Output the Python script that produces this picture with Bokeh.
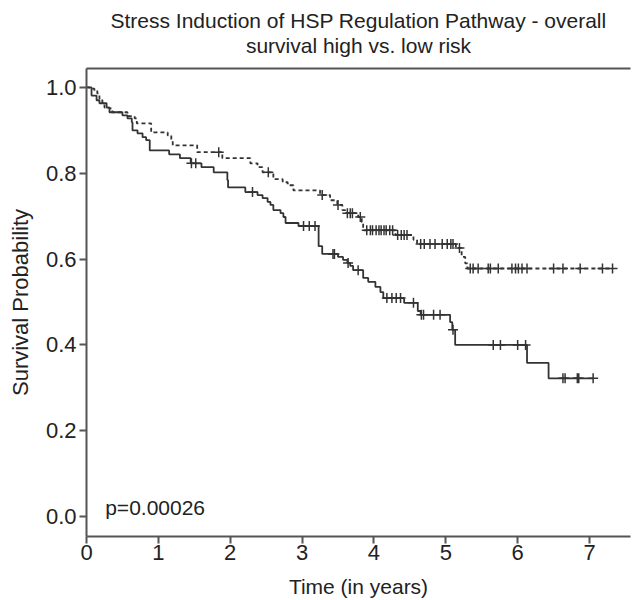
import numpy as np
from bokeh.plotting import figure
from bokeh.models import (Range1d, LinearAxis, FixedTicker, NumeralTickFormatter,
                          Title, Label)
from bokeh.embed import file_html
from bokeh.resources import INLINE

TITLE_1 = "Stress Induction of HSP Regulation Pathway - overall"
TITLE_2 = "survival high vs. low risk"
X_LABEL = "Time (in years)"
Y_LABEL = "Survival Probability"
P_TEXT = "p=0.00026"
X_TICKS = [0, 1, 2, 3, 4, 5, 6, 7]
Y_TICKS = [0.0, 0.2, 0.4, 0.6, 0.8, 1.0]

# high-risk group (solid): event times and survival after each event
HI_T = [0.07, 0.14, 0.18, 0.28, 0.32, 0.50, 0.57, 0.63, 0.64, 0.71,
        0.78, 0.83, 0.88, 1.15, 1.30, 1.45, 1.60, 1.77, 1.96, 1.97,
        2.21, 2.38, 2.45, 2.52, 2.56, 2.60, 2.70, 2.74, 2.77, 2.95,
        3.23, 3.28, 3.50, 3.57, 3.63, 3.67, 3.71, 3.85, 3.92, 4.02,
        4.09, 4.13, 4.42, 4.61, 4.65, 5.06, 5.09, 5.13, 6.13, 6.43]
HI_S = [0.981, 0.970, 0.963, 0.953, 0.942, 0.935, 0.928, 0.919, 0.900, 0.893,
        0.884, 0.877, 0.853, 0.844, 0.835, 0.823, 0.814, 0.802, 0.784, 0.767,
        0.756, 0.749, 0.742, 0.733, 0.726, 0.714, 0.707, 0.698, 0.684, 0.677,
        0.630, 0.612, 0.605, 0.598, 0.591, 0.584, 0.574, 0.556, 0.547, 0.535,
        0.523, 0.509, 0.498, 0.479, 0.470, 0.453, 0.435, 0.400, 0.358, 0.322]
HI_CENS = [1.46, 1.52, 2.31, 3.02, 3.10, 3.18, 3.43, 3.45, 3.64, 3.78,
           4.18, 4.25, 4.31, 4.37, 4.55, 4.66, 4.69, 4.83, 4.92, 5.10,
           5.66, 5.76, 6.00, 6.11, 6.63, 6.66, 6.83, 6.85, 7.05]
HI_END = 7.05

# low-risk group (dashed)
LO_T = [0.04, 0.11, 0.15, 0.18, 0.22, 0.25, 0.32, 0.36, 0.57, 0.67,
        0.70, 0.90, 1.13, 1.18, 1.20, 1.54, 1.89, 2.28, 2.38, 2.45,
        2.60, 2.73, 2.80, 2.88, 3.25, 3.39, 3.49, 3.56, 3.60, 3.78,
        3.83, 3.85, 4.30, 4.55, 4.60, 5.14, 5.22, 5.27, 5.30]
LO_S = [0.997, 0.993, 0.986, 0.974, 0.965, 0.953, 0.951, 0.942, 0.933, 0.928,
        0.916, 0.895, 0.888, 0.877, 0.865, 0.849, 0.835, 0.823, 0.814, 0.802,
        0.786, 0.779, 0.772, 0.760, 0.749, 0.737, 0.726, 0.714, 0.707, 0.698,
        0.686, 0.667, 0.656, 0.645, 0.635, 0.626, 0.605, 0.590, 0.578]
LO_CENS = [1.84, 2.53, 3.28, 3.50, 3.63, 3.67, 3.70, 3.81, 3.90, 3.95,
           3.98, 4.03, 4.07, 4.10, 4.14, 4.17, 4.22, 4.26, 4.33, 4.38,
           4.42, 4.46, 4.65, 4.70, 4.78, 4.85, 4.95, 5.02, 5.07, 5.10,
           5.19, 5.34, 5.38, 5.45, 5.59, 5.62, 5.73, 5.92, 5.97, 6.01,
           6.06, 6.13, 6.50, 6.63, 6.87, 7.18, 7.32]
LO_END = 7.32

FONT = "Liberation Sans"
TXT = "#222222"
LINE = "#333333"
AX = "#555555"


def step_xy(t, s, end):
    return [0.0] + list(t) + [end], [1.0] + list(s) + [s[-1]]


def cens_y(t, s, c):
    full = np.array([1.0] + list(s))
    idx = np.searchsorted(np.array(t), np.array(c), side="right")
    return full[idx]


p = figure(width=632, height=600, output_backend="svg", toolbar_location=None,
           x_range=Range1d(0, 7.57), y_range=Range1d(-0.0465, 1.044),
           min_border_left=86, min_border_right=2, min_border_top=68,
           min_border_bottom=63)
p.outline_line_color = None
p.xgrid.visible = False
p.ygrid.visible = False
p.background_fill_color = "white"
p.border_fill_color = "white"

hx, hy = step_xy(HI_T, HI_S, HI_END)
lx, ly = step_xy(LO_T, LO_S, LO_END)
p.step(hx, hy, mode="after", line_color=LINE, line_width=1.8)
p.step(lx, ly, mode="after", line_color=LINE, line_width=1.8, line_dash="4 3")

p.scatter(HI_CENS, cens_y(HI_T, HI_S, HI_CENS), marker="cross", size=10,
          line_color=LINE, line_width=1.5)
p.scatter(LO_CENS, cens_y(LO_T, LO_S, LO_CENS), marker="cross", size=10,
          line_color=LINE, line_width=1.5)

for ax in (p.xaxis[0], p.yaxis[0]):
    ax.axis_line_color = AX
    ax.axis_line_width = 2
    ax.major_tick_line_color = AX
    ax.major_tick_line_width = 2
    ax.major_tick_out = 7
    ax.major_tick_in = 0
    ax.minor_tick_line_color = None
    ax.major_label_text_font = FONT
    ax.major_label_text_font_size = "22px"
    ax.major_label_text_color = TXT
    ax.axis_label_text_font = FONT
    ax.axis_label_text_font_style = "normal"
    ax.axis_label_text_color = TXT

p.xaxis[0].ticker = FixedTicker(ticks=X_TICKS)
p.xaxis[0].axis_label = X_LABEL
p.xaxis[0].axis_label_text_font_size = "21px"
p.xaxis[0].major_label_standoff = 1
p.xaxis[0].axis_label_standoff = 12
p.yaxis[0].ticker = FixedTicker(ticks=Y_TICKS)
p.yaxis[0].formatter = NumeralTickFormatter(format="0.0")
p.yaxis[0].axis_label = Y_LABEL
p.yaxis[0].axis_label_text_font_size = "22px"
p.yaxis[0].major_label_standoff = 3
p.yaxis[0].axis_label_standoff = 10

top = LinearAxis(ticker=FixedTicker(ticks=[]), axis_line_color=AX, axis_line_width=2,
                 major_tick_line_color=None, minor_tick_line_color=None,
                 major_label_text_font_size="0px", major_label_standoff=0)
p.add_layout(top, "above")
p.add_layout(Title(text=TITLE_2, align="center", text_font=FONT, text_font_size="21px",
                   text_font_style="normal", text_color=TXT, standoff=24), "above")
p.add_layout(Title(text=TITLE_1, align="center", text_font=FONT, text_font_size="21px",
                   text_font_style="normal", text_color=TXT, standoff=-24), "above")

p.add_layout(Label(x=0.26, y=0.02, text=P_TEXT, text_font=FONT, text_font_size="21px",
                   text_color=TXT, text_baseline="middle", text_align="left"))

open("out.html", "w").write(file_html(p, INLINE))
